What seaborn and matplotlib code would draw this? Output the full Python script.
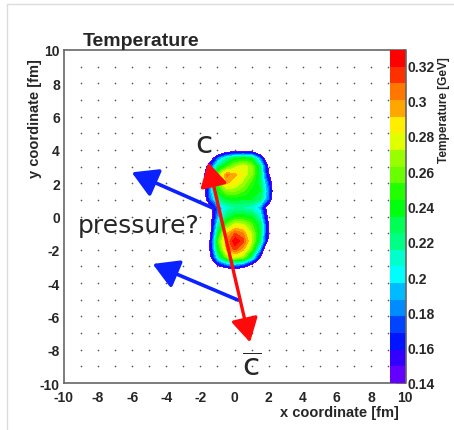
import colorsys
import numpy as np
import matplotlib
matplotlib.use("Agg")
import matplotlib.pyplot as plt
from matplotlib.colors import ListedColormap, BoundaryNorm
from matplotlib.patches import FancyArrowPatch, ArrowStyle
from matplotlib.lines import Line2D
from matplotlib.ticker import MultipleLocator, FixedLocator
import seaborn as sns

sns.set_style("white")
plt.rcParams["axes.unicode_minus"] = False
plt.rcParams["mathtext.fontset"] = "dejavusans"

# ---- temperature field (GeV) on a 0.5 fm lattice ----
x_centers = [-2.5, -2.0, -1.5, -1.0, -0.5, 0.0, 0.5, 1.0, 1.5, 2.0, 2.5]
y_centers = [4.5, 4.0, 3.5, 3.0, 2.5, 2.0, 1.5, 1.0, 0.5, 0.0,
             -0.5, -1.0, -1.5, -2.0, -2.5, -3.0, -3.5, -4.0]
temperature = [
    [0, 0, 0, 0, 0, 0, 0, 0, 0, 0, 0],
    [0, 0, 0.03, 0.08, 0.11, 0.12, 0.12, 0.115, 0.08, 0.03, 0],
    [0, 0.04, 0.11, 0.18, 0.215, 0.235, 0.24, 0.235, 0.18, 0.09, 0.02],
    [0.02, 0.09, 0.165, 0.225, 0.25, 0.27, 0.28, 0.265, 0.225, 0.13, 0.05],
    [0.04, 0.11, 0.19, 0.26, 0.305, 0.295, 0.28, 0.265, 0.225, 0.145, 0.06],
    [0.05, 0.10, 0.185, 0.255, 0.295, 0.285, 0.27, 0.25, 0.23, 0.17, 0.08],
    [0.04, 0.10, 0.185, 0.24, 0.265, 0.265, 0.255, 0.24, 0.235, 0.18, 0.08],
    [0.03, 0.09, 0.175, 0.22, 0.235, 0.24, 0.235, 0.235, 0.225, 0.175, 0.07],
    [0.01, 0.05, 0.12, 0.185, 0.21, 0.215, 0.215, 0.21, 0.19, 0.115, 0.03],
    [0.01, 0.05, 0.12, 0.19, 0.225, 0.24, 0.24, 0.235, 0.21, 0.125, 0.03],
    [0.01, 0.05, 0.12, 0.215, 0.255, 0.28, 0.275, 0.255, 0.23, 0.14, 0.03],
    [0.01, 0.05, 0.125, 0.235, 0.29, 0.31, 0.30, 0.27, 0.23, 0.14, 0.02],
    [0.02, 0.07, 0.14, 0.255, 0.30, 0.3285, 0.315, 0.275, 0.225, 0.13, 0.02],
    [0.02, 0.07, 0.14, 0.24, 0.295, 0.315, 0.295, 0.26, 0.19, 0.07, 0],
    [0.01, 0.05, 0.125, 0.215, 0.26, 0.275, 0.265, 0.22, 0.14, 0.04, 0],
    [0, 0.02, 0.08, 0.14, 0.17, 0.18, 0.165, 0.125, 0.08, 0.02, 0],
    [0, 0, 0.02, 0.05, 0.06, 0.06, 0.06, 0.04, 0.02, 0, 0],
    [0, 0, 0, 0, 0, 0, 0, 0, 0, 0, 0],
]

t_min, t_max = 0.14, 0.3285
n_levels = 20
cbar_ticks = [0.14, 0.16, 0.18, 0.20, 0.22, 0.24, 0.26, 0.28, 0.30, 0.32]
cbar_labels = ["0.14", "0.16", "0.18", "0.2", "0.22", "0.24", "0.26", "0.28", "0.3", "0.32"]
axis_ticks = [-10, -8, -6, -4, -2, 0, 2, 4, 6, 8, 10]

# violet -> red "pretty" spectrum, 50 hues, sampled for 20 contour levels
pretty = []
for i in range(50):
    hue = 280 - (i + 1) * (280 / 50)
    pretty.append(colorsys.hls_to_rgb((hue % 360) / 360.0, 0.5, 1.0))
level_colors = [pretty[min(int((k + 0.99) * 50 / n_levels), 49)] for k in range(n_levels)]
cmap = ListedColormap(sns.color_palette(level_colors))
cmap.set_under((1, 1, 1, 0))
cmap.set_over(level_colors[-1])
bounds = np.linspace(t_min, t_max, n_levels + 1)
norm = BoundaryNorm(bounds, cmap.N)

W, H = 454, 431
fig = plt.figure(figsize=(W / 100, H / 100), dpi=100)
fig.patch.set_facecolor("white")

ax = fig.add_axes([64 / W, 47 / H, 341 / W, 333 / H])
cax = fig.add_axes([390 / W, 47 / H, 16 / W, 333 / H])

frame_col = "#666666"
bold = dict(family=["Liberation Sans", "DejaVu Sans"], weight="bold")

# dotted grid
gx, gy = np.meshgrid(np.arange(-9, 10), np.arange(-9, 10))
ax.scatter(gx.ravel(), gy.ravel(), s=1.4, color="#555555", linewidths=0, zorder=0.5)

Z = np.array(temperature)
dx = x_centers[1] - x_centers[0]
dy = y_centers[0] - y_centers[1]
im = ax.imshow(Z, extent=[x_centers[0] - dx / 2, x_centers[-1] + dx / 2,
                          y_centers[-1] - dy / 2, y_centers[0] + dy / 2],
               origin="upper", cmap=cmap, norm=norm, aspect="auto",
               interpolation="bilinear", interpolation_stage="data", zorder=1)

ax.set_xlim(-10, 10)
ax.set_ylim(-10, 10)
ax.xaxis.set_major_locator(FixedLocator(axis_ticks))
ax.yaxis.set_major_locator(FixedLocator(axis_ticks))
ax.xaxis.set_minor_locator(MultipleLocator(0.5))
ax.yaxis.set_minor_locator(MultipleLocator(0.5))
ax.set_xticklabels([str(v) for v in axis_ticks], fontsize=10, **bold)
ax.set_yticklabels([str(v) for v in axis_ticks], fontsize=10, **bold)
ax.tick_params(axis="both", which="both", direction="in", top=False, right=False,
               color=frame_col, width=1.1)
ax.tick_params(axis="both", which="major", length=7)
ax.tick_params(axis="both", which="minor", length=3.5)
ax.tick_params(axis="x", which="major", pad=5)
ax.tick_params(axis="y", which="major", pad=3)
for sp in ax.spines.values():
    sp.set_color(frame_col)
    sp.set_linewidth(1.2)

# colour scale
cbar = fig.colorbar(im, cax=cax, ticks=cbar_ticks, extend="neither")
cbar.outline.set_visible(False)
cax.set_yticklabels(cbar_labels, fontsize=10, **bold)
cax.yaxis.set_ticks_position("right")
cax.yaxis.set_minor_locator(MultipleLocator(0.004))
cax.tick_params(axis="y", which="both", direction="in", color=frame_col, width=1.1, pad=1)
cax.tick_params(axis="y", which="major", length=7.5)
cax.tick_params(axis="y", which="minor", length=3)
cax.plot([1, 1], [0, 1], transform=cax.transAxes, color=frame_col, lw=1.2, clip_on=False)

# titles
fig.text(83 / W, 1 - 46 / H, "Temperature", fontsize=14, ha="left", va="baseline", **bold)
fig.text(399 / W, 1 - 413 / H, "x coordinate [fm]", fontsize=10.5, ha="right", va="center", **bold)
fig.text(35 / W, 1 - 59 / H, "y coordinate [fm]", fontsize=10.5, rotation=90,
         ha="center", va="top", **bold)
fig.text(444 / W, 1 - 57 / H, "Temperature [GeV]", fontsize=8.6, rotation=90,
         ha="center", va="top", **bold)

# annotations
blue = "#0a22ff"
for (x0, y0), (x1, y1) in [((-1.25, 0.5), (-6.03, 2.65)), ((0.21, -5.02), (-4.80, -2.85))]:
    ax.add_patch(FancyArrowPatch((x0, y0), (x1, y1),
                                 arrowstyle=ArrowStyle("-|>", head_length=15.5, head_width=9),
                                 mutation_scale=1, shrinkA=0, shrinkB=0,
                                 color=blue, lw=2.6, zorder=4))
ax.add_patch(FancyArrowPatch((0.91, -7.56), (-1.54, 3.25),
                             arrowstyle=ArrowStyle("<|-|>", head_length=14.5, head_width=8.2),
                             mutation_scale=1, shrinkA=0, shrinkB=0,
                             color="#ff0a0a", lw=2.4, zorder=5))

txt_font = ["DejaVu Sans"]
ax.text(-9.18, -0.93, "pressure?", fontsize=18, family=txt_font, ha="left",
        va="baseline", zorder=6)
ax.text(-1.82, 4.38, "c", fontsize=22.5, family=txt_font, ha="center", va="center", zorder=6)
ax.text(1.0, -9.58, r"$\overline{\mathrm{c}}$", fontsize=22.5, ha="center",
        va="baseline", zorder=6)

# light page border
fig.add_artist(Line2D([7 / W, 7 / W], [0, 1 - 5 / H], transform=fig.transFigure,
                      color="#dcdcdc", lw=1))
fig.add_artist(Line2D([7 / W, 1], [1 - 5 / H, 1 - 5 / H], transform=fig.transFigure,
                      color="#dcdcdc", lw=1))

fig.savefig("out.png", dpi=100, facecolor="white")
